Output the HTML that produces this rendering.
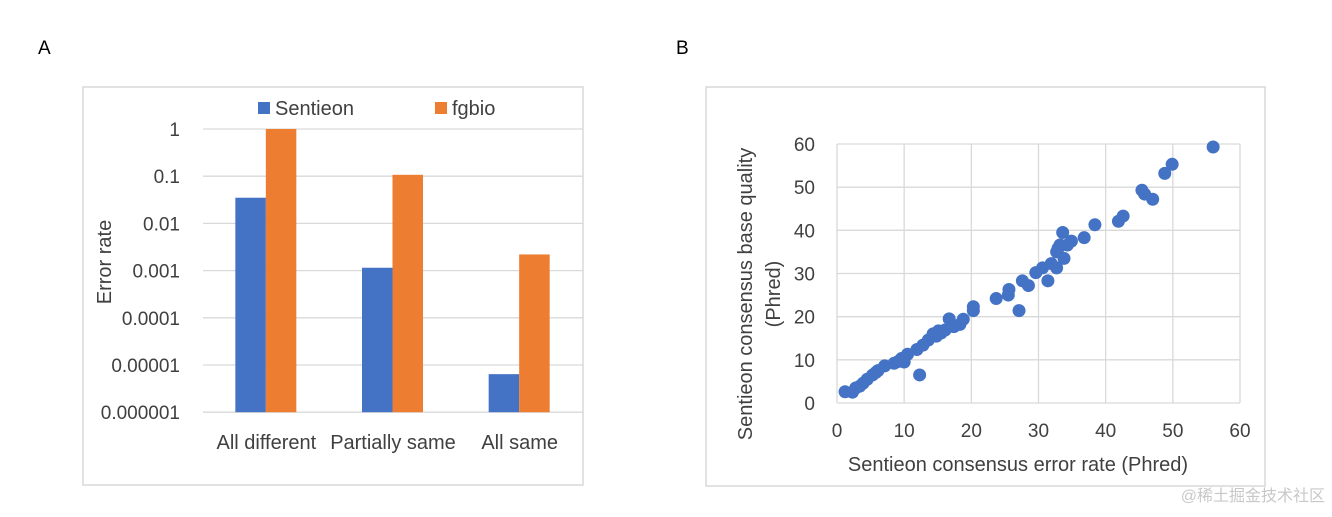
<!DOCTYPE html>
<html><head><meta charset="utf-8">
<style>
body{margin:0;background:#fff;width:1332px;height:512px;overflow:hidden;font-family:"Liberation Sans","Noto Sans CJK SC",sans-serif;}
svg text{font-family:"Liberation Sans","Noto Sans CJK SC",sans-serif;fill:#404040;}
</style></head><body>
<svg width="1332" height="512">
<text x="38" y="54" font-size="19" style="fill:#000">A</text>
<text x="676" y="54" font-size="19" style="fill:#000">B</text>
<rect x="83" y="87" width="500" height="398" fill="none" stroke="#d9d9d9" stroke-width="1.5"/>
<rect x="706" y="87" width="559" height="399" fill="none" stroke="#d9d9d9" stroke-width="1.5"/>
<g id="bar"></g>
<g id="sc"></g>
<text x="1325" y="501" font-size="16" text-anchor="end" style="fill:#c8c8c8">@稀土掘金技术社区</text>
</svg>
<script>
const categories=["All different","Partially same","All same"];
const sentieonVals=[0.035,0.00115,0.0000064];
const fgbioVals=[1,0.107,0.0022];
const yTickLabels=["1","0.1","0.01","0.001","0.0001","0.00001","0.000001"];
const scX=[1.2,2.3,2.8,3.9,4.5,5.3,6.1,7.1,9.1,9.6,10.5,12.3,11.9,12.8,13.6,14.3,15.1,16.1,16.7,17.4,18.3,18.8,20.3,20.3,23.7,25.5,25.6,27.1,27.6,28.5,29.6,30.6,31.4,31.9,32.7,32.9,32.7,33.2,33.6,33.8,34.3,34.9,36.8,38.4,41.9,42.6,45.4,45.8,47,48.8,49.9,56,8.5,10,14.8,15.5,3.4,5.8];
const scY=[2.6,2.5,3.5,4.6,5.5,6.5,7.5,8.6,9.6,10.3,11.3,6.5,12.4,13.4,14.6,16,16.7,16.9,19.5,17.7,18.2,19.4,22.3,21.4,24.2,25,26.3,21.4,28.3,27.2,30.2,31.3,28.3,32.3,31.3,35.8,35,36.6,39.5,33.5,36.6,37.5,38.3,41.3,42.1,43.3,49.3,48.4,47.2,53.2,55.3,59.3,9.2,9.5,15.5,16.2,3.9,7.1];
const scTicks=[0,10,20,30,40,50,60];
const NS="http://www.w3.org/2000/svg";
function mk(p,t,a,txt){const e=document.createElementNS(NS,t);for(const k in a)e.setAttribute(k,a[k]);if(txt!==undefined)e.textContent=txt;p.appendChild(e);return e;}
// bar chart
const bg=document.getElementById('bar');
const top1=129,dec=47.2,px0=203,pxw=380;
const yB=v=>top1-Math.log10(v)*dec;
const bandW=pxw/categories.length;
yTickLabels.forEach((l,i)=>{const y=top1+i*dec;
 let g=mk(bg,'line',{x1:px0,x2:583,y1:y,y2:y,stroke:'#d9d9d9','stroke-width':1.3});
 
 let t=mk(bg,'text',{x:180,y:y+7,'font-size':19,'text-anchor':'end'},l);
 });
const base=yB(1e-6);
categories.forEach((c,i)=>{const cx=px0+bandW*(i+0.5);
 let r1=mk(bg,'rect',{x:cx-31,y:yB(sentieonVals[i]),width:30.5,height:base-yB(sentieonVals[i]),fill:'#4472C4'});
 
 let r2=mk(bg,'rect',{x:cx-0.5,y:yB(fgbioVals[i]),width:30.5,height:base-yB(fgbioVals[i]),fill:'#ED7D31'});
 
 let t=mk(bg,'text',{x:cx,y:449,'font-size':20,'text-anchor':'middle'},c);
 });
let l1=mk(bg,'rect',{x:258,y:102,width:12,height:12,fill:'#4472C4'});
let l2=mk(bg,'text',{x:275,y:115,'font-size':20},'Sentieon');
let l3=mk(bg,'rect',{x:435,y:102,width:12,height:12,fill:'#ED7D31'});
let l4=mk(bg,'text',{x:452,y:115,'font-size':20},'fgbio');
let yt=mk(bg,'text',{x:0,y:0,'font-size':20,'text-anchor':'middle',transform:'translate(111,262) rotate(-90)'},'Error rate');

// scatter
const sg=document.getElementById('sc');
const L=837,R=1240,T=144,B=403;
const sx=v=>L+v/60*(R-L), sy=v=>B-v/60*(B-T);
scTicks.forEach(v=>{
 let g1=mk(sg,'line',{x1:sx(v),x2:sx(v),y1:T,y2:B,stroke:'#d9d9d9','stroke-width':1.3});
 
 let g2=mk(sg,'line',{x1:L,x2:R,y1:sy(v),y2:sy(v),stroke:'#d9d9d9','stroke-width':1.3});
 
 let t1=mk(sg,'text',{x:sx(v),y:437,'font-size':19,'text-anchor':'middle'},String(v));
 
 let t2=mk(sg,'text',{x:815,y:sy(v)+7,'font-size':19,'text-anchor':'end'},String(v));
 });
scX.forEach((x,i)=>{let c=mk(sg,'circle',{cx:sx(x),cy:sy(scY[i]),r:6.5,fill:'#4472C4'});
 });
let xt=mk(sg,'text',{x:1018,y:471,'font-size':20,'text-anchor':'middle'},'Sentieon consensus error rate (Phred)');

let y1=mk(sg,'text',{x:0,y:0,'font-size':20,'text-anchor':'middle',transform:'translate(752,294) rotate(-90)'},'Sentieon consensus base quality');

let y2=mk(sg,'text',{x:0,y:0,'font-size':20,'text-anchor':'middle',transform:'translate(780,294) rotate(-90)'},'(Phred)');

</script>
</body></html>
